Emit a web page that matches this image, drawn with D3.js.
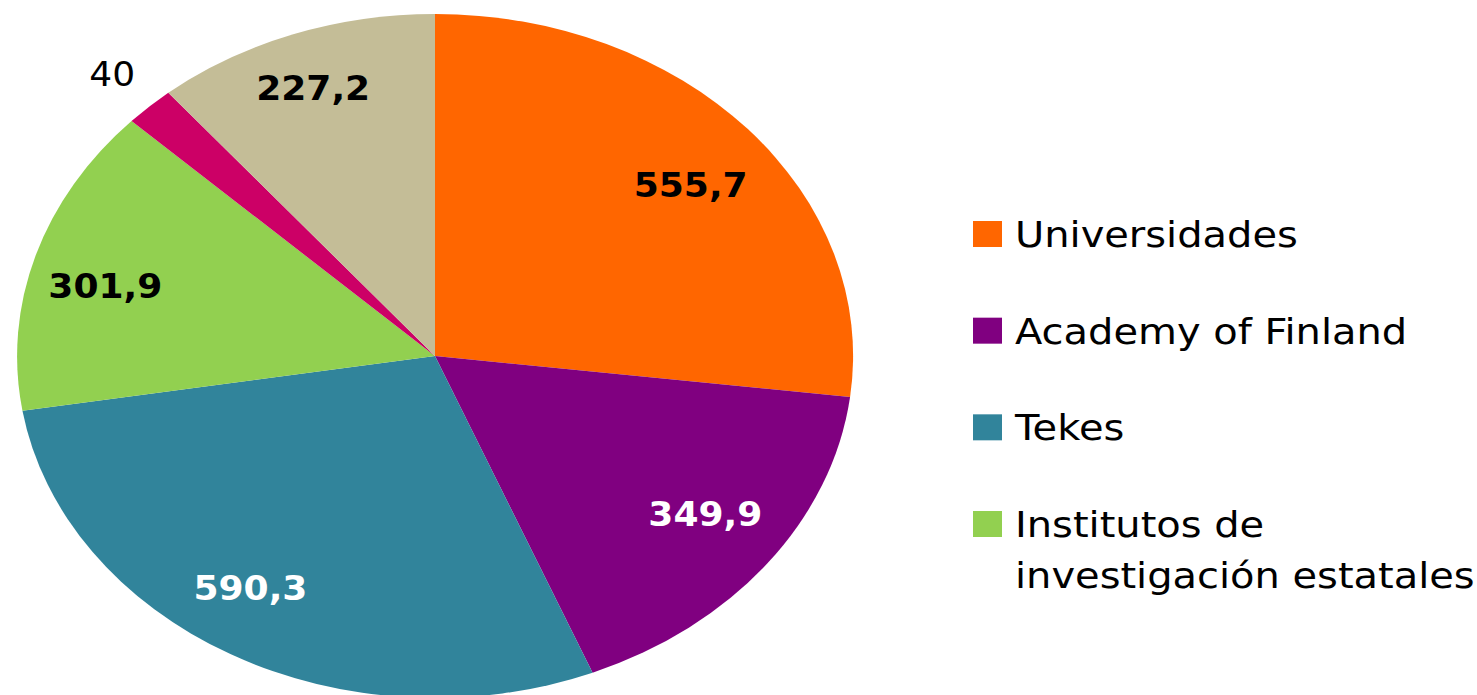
<!DOCTYPE html>
<html>
<head>
<meta charset="utf-8">
<script src="https://cdn.jsdelivr.net/npm/d3@7"></script>
<style>
  html, body { margin: 0; padding: 0; background: #fff; }
  svg { display: block; }
  text { font-family: "DejaVu Sans", Verdana, sans-serif; }
</style>
</head>
<body>
<svg id="chart" width="1477" height="695"></svg>
<script>
// ---- data ----
const categories = ["Universidades", "Academy of Finland", "Tekes", "Institutos de investigación estatales", "Otros", "Otros 2"];
const values = [555.7, 349.9, 590.3, 301.9, 40, 227.2];
const labels = ["555,7", "349,9", "590,3", "301,9", "40", "227,2"];
const colors = ["#FF6600", "#800080", "#31849B", "#92D050", "#CC0066", "#C4BD97"];
const labelColors = ["#000", "#fff", "#fff", "#000", "#000", "#000"];
const labelWeights = ["bold", "bold", "bold", "bold", "normal", "bold"];
const labelRadius = [0.79, 0.795, 0.81, 0.815, 1.13, 0.836];
const labelAngleOffset = [2.3, -1.8, 3.7, -2.5, 0, -0.6];
const legendItems = [["Universidades"], ["Academy of Finland"], ["Tekes"], ["Institutos de", "investigación estatales"]];

// ---- layout ----
const cx = 435, cy = 356, rx = 418, ry = 342;
const svg = d3.select("#chart");

const pie = d3.pie().sort(null).value(d => d)(values);
const arc = d3.arc().innerRadius(0).outerRadius(1);

const g = svg.append("g").attr("transform", `translate(${cx},${cy})`);
g.append("g").attr("transform", `scale(${rx},${ry})`)
  .selectAll("path").data(pie).join("path")
  .attr("d", arc)
  .attr("fill", (d, i) => colors[i]);

pie.forEach((d, i) => {
  const a = (d.startAngle + d.endAngle) / 2 + labelAngleOffset[i] * Math.PI / 180;
  const r = labelRadius[i];
  const ux = r * Math.sin(a), uy = -r * Math.cos(a);
  g.append("text")
    .attr("transform", `translate(${ux * rx},${uy * ry}) scale(1.06,1)`)
    .attr("text-anchor", "middle")
    .attr("dy", "0.36em")
    .attr("font-size", 34)
    .attr("font-weight", labelWeights[i])
    .attr("fill", labelColors[i])
    .text(labels[i]);
});

// ---- legend ----
const legendY = d3.scalePoint().domain(d3.range(legendItems.length)).range([247, 537]);
const lg = svg.append("g");
legendItems.forEach((lines, i) => {
  const y = legendY(i);
  lg.append("rect")
    .attr("x", 973).attr("y", y - 26)
    .attr("width", 29).attr("height", 26)
    .attr("fill", colors[i]);
  lines.forEach((t, j) => {
    lg.append("text")
      .attr("transform", `translate(1015,${y + j * 51}) scale(1.11,1)`)
      .attr("font-size", 36)
      .attr("fill", "#000")
      .text(t);
  });
});
</script>
</body>
</html>
